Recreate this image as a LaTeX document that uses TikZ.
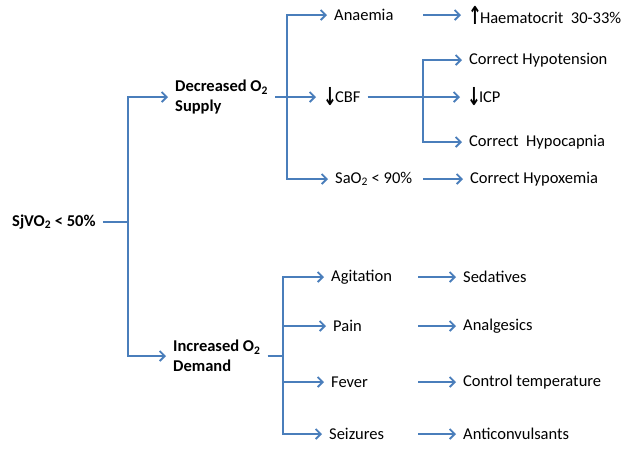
\documentclass[tikz,border=0pt]{standalone}
\usepackage{fontspec}
\setmainfont{Carlito}
\newfontfamily\arrowfont{DejaVu Sans}
\usetikzlibrary{arrows.meta}
\definecolor{flowblue}{HTML}{4A7EBB}
\newcommand{\arrdown}{\raisebox{-3pt}{\scalebox{1}[1.5]{\arrowfont\bfseries ↓}}\kern-2pt}
\newcommand{\arrup}{\raisebox{-1pt}{\scalebox{1}[1.5]{\arrowfont\bfseries ↑}}\kern-2pt}

\begin{document}
\begin{tikzpicture}[
    x=1pt, y=-1pt,
    lbl/.style={anchor=west, inner xsep=7pt, inner ysep=2pt, font=\fontsize{16.5}{19.5}\selectfont},
    head/.style={lbl, font=\fontsize{16.5}{19.5}\selectfont\bfseries, align=left},
    line/.style={draw=flowblue, line width=1.8pt},
    arrow/.style={line, -{Straight Barb[length=5pt,width=10pt]}}
  ]
  \useasboundingbox (0,0) rectangle (635,451);

  % root and the two branches
  \node[head] (sj)  at (5,222)   {SjVO\textsubscript{2} < 50\%};
  \node[head] (dec) at (168,97)  {Decreased O\textsubscript{2}\\Supply};
  \node[head] (inc) at (166,356) {Increased O\textsubscript{2}\\Demand};

  % supply side
  \node[lbl] (anaemia) at (327,15)  {Anaemia};
  \node[lbl] (cbf)     at (316,97)  {\arrdown CBF};
  \node[lbl] (sao)     at (328,179) {SaO\textsubscript{2} < 90\%};

  \node[lbl] (haem)  at (461,15)  {\arrup Haematocrit\ \ 30-33\%};
  \node[lbl] (hypot) at (462,60)  {Correct Hypotension};
  \node[lbl] (icp)   at (460,97)  {\arrdown ICP};
  \node[lbl] (hypoc) at (462,142) {Correct\ \ Hypocapnia};
  \node[lbl] (hypox) at (463,179) {Correct Hypoxemia};

  % demand side
  \node[lbl] (agit)  at (324,277) {Agitation};
  \node[lbl] (pain)  at (326,326) {Pain};
  \node[lbl] (fever) at (324,382) {Fever};
  \node[lbl] (seiz)  at (322,434) {Seizures};

  \node[lbl] (sed)      at (456,277) {Sedatives};
  \node[lbl] (analg)    at (456,326) {Analgesics};
  \node[lbl] (temp)     at (456,382) {Control temperature};
  \node[lbl] (anticonv) at (456,434) {Anticonvulsants};

  % split points
  \coordinate (trunk)  at (128,222);
  \coordinate (dsplit) at (287,97);
  \coordinate (csplit) at (423,97);
  \coordinate (isplit) at (283,356);
  \coordinate (rcol)   at (418,0);

  \draw[line]  (sj.east) -- (trunk);
  \draw[arrow] (trunk) |- (dec.west);
  \draw[arrow] (trunk) |- (inc.west);

  \draw[arrow] (dec.east) -- (cbf.west);
  \draw[arrow] (dsplit) |- (anaemia.west);
  \draw[arrow] (dsplit) |- (sao.west);

  \draw[arrow] (anaemia.east -| csplit) -- (haem.west);
  \draw[arrow] (cbf.east) -- (icp.west);
  \draw[arrow] (csplit) |- (hypot.west);
  \draw[arrow] (csplit) |- (hypoc.west);
  \draw[arrow] (sao.east -| csplit) -- (hypox.west);

  \draw[line] (inc.east) -- (isplit);
  \foreach \n in {agit, pain, fever, seiz}
    \draw[arrow] (isplit) |- (\n.west);

  \draw[arrow] (agit.east -| rcol)  -- (sed.west);
  \draw[arrow] (pain.east -| rcol)  -- (analg.west);
  \draw[arrow] (fever.east -| rcol) -- (temp.west);
  \draw[arrow] (seiz.east -| rcol)  -- (anticonv.west);
\end{tikzpicture}
\end{document}
